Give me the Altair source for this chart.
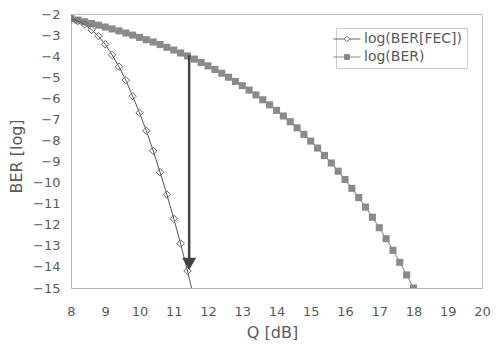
import altair as alt
import pandas as pd

# ---- data ----
q_ber = [8.0, 8.2, 8.4, 8.6, 8.8, 9.0, 9.2, 9.4, 9.6, 9.8,
         10.0, 10.2, 10.4, 10.6, 10.8, 11.0, 11.2, 11.4, 11.6, 11.8,
         12.0, 12.2, 12.4, 12.6, 12.8, 13.0, 13.2, 13.4, 13.6, 13.8,
         14.0, 14.2, 14.4, 14.6, 14.8, 15.0, 15.2, 15.4, 15.6, 15.8,
         16.0, 16.2, 16.4, 16.6, 16.8, 17.0, 17.2, 17.4, 17.6, 17.8, 18.0]
log_ber = [-2.22, -2.29, -2.37, -2.45, -2.53, -2.62, -2.71, -2.80, -2.90, -3.00,
           -3.11, -3.22, -3.33, -3.45, -3.58, -3.71, -3.85, -3.99, -4.14, -4.30,
           -4.46, -4.63, -4.81, -5.00, -5.20, -5.40, -5.61, -5.84, -6.07, -6.31,
           -6.57, -6.84, -7.11, -7.40, -7.71, -8.03, -8.36, -8.71, -9.07, -9.46,
           -9.85, -10.27, -10.71, -11.16, -11.64, -12.14, -12.66, -13.21, -13.78, -14.38, -15.00]

q_fec = [8.0, 8.2, 8.4, 8.6, 8.8, 9.0, 9.2, 9.4, 9.6, 9.8,
         10.0, 10.2, 10.4, 10.6, 10.8, 11.0, 11.2, 11.4, 11.6]
log_fec = [-2.22, -2.34, -2.50, -2.75, -3.05, -3.44, -3.94, -4.50, -5.14, -5.90,
           -6.69, -7.54, -8.49, -9.51, -10.57, -11.71, -12.89, -14.19, -15.55]

arrow_q = [11.45]
arrow_top = [-3.95]
arrow_end = [-13.6]
arrow_head = [-13.85]

series_names = ["log(BER[FEC])", "log(BER)"]
x_ticks = [8, 9, 10, 11, 12, 13, 14, 15, 16, 17, 18, 19, 20]
y_ticks = [-15, -14, -13, -12, -11, -10, -9, -8, -7, -6, -5, -4, -3, -2]

# ---- frames ----
ber_df = pd.DataFrame({"q": q_ber, "v": log_ber, "series": series_names[1]})
fec_df = pd.DataFrame({"q": q_fec, "v": log_fec, "series": series_names[0]})
both_df = pd.concat([fec_df, ber_df], ignore_index=True)
arrow_df = pd.DataFrame({"q": arrow_q, "top": arrow_top, "end": arrow_end, "head": arrow_head})

FONT = "DejaVu Sans"
TXT = "#5a5a5a"

x_scale = alt.Scale(domain=[8, 20], nice=False, zero=False)
y_scale = alt.Scale(domain=[-15, -2], nice=False, zero=False)

x_axis = alt.Axis(title="Q [dB]", values=x_ticks, format="d", grid=False, ticks=False,
                  labelFlush=False, labelOverlap=False, labelFont=FONT, labelFontSize=13,
                  labelColor=TXT, labelPadding=17, domainColor="#b0b0b0",
                  titleFont=FONT, titleFontSize=16, titleFontWeight="normal",
                  titleColor=TXT, titleBaseline="alphabetic", titleX=201, titleY=49)
y_axis = alt.Axis(title="BER [log]", values=y_ticks, format="d", grid=False, ticks=False,
                  labelFlush=False, labelOverlap=False, labelFont=FONT, labelFontSize=13,
                  labelColor=TXT, labelPadding=11, domainColor="#b0b0b0",
                  titleFont=FONT, titleFontSize=16, titleFontWeight="normal",
                  titleColor=TXT, titleBaseline="alphabetic", titleAngle=270,
                  titleX=-50, titleY=142)

X = alt.X("q:Q", scale=x_scale, axis=x_axis)
Y = alt.Y("v:Q", scale=y_scale, axis=y_axis)

ber_line = alt.Chart(ber_df).mark_line(color="#9a9a9a", strokeWidth=1.2, clip=True).encode(x=X, y=Y)
ber_pts = alt.Chart(ber_df).mark_square(size=50, color="#8a8a8a", opacity=1, clip=True).encode(x=X, y=Y)
fec_line = alt.Chart(fec_df).mark_line(color="#555555", strokeWidth=1, clip=True).encode(x=X, y=Y)
fec_pts = alt.Chart(fec_df).mark_point(shape="diamond", size=55, color="#666666", filled=False,
                                       strokeWidth=1, opacity=1, clip=True).encode(x=X, y=Y)

arrow_rule = alt.Chart(arrow_df).mark_rule(color="#444444", strokeWidth=2.5).encode(
    x=alt.X("q:Q", scale=x_scale, axis=x_axis),
    y=alt.Y("top:Q", scale=y_scale, axis=y_axis),
    y2="end:Q")
arrow_tip = alt.Chart(arrow_df).mark_point(shape="triangle-down", filled=True, size=200,
                                           color="#444444", opacity=1).encode(
    x=alt.X("q:Q", scale=x_scale, axis=x_axis),
    y=alt.Y("head:Q", scale=y_scale, axis=y_axis))

# legend symbols: line + marker as custom paths
p_diamond = "M-2.7,0H-0.55M0.55,0H2.7M-0.55,0L0,-0.55L0.55,0L0,0.55Z"
p_square = "M-2.7,0H2.7M-0.5,-0.5H0.5V0.5H-0.5Z"

leg = alt.Legend(title=None, orient="none", legendX=265, legendY=14, fillColor="white",
                 strokeColor="#cccccc", padding=4, labelFont=FONT, labelFontSize=14,
                 labelColor=TXT, symbolSize=100, symbolStrokeWidth=1, symbolOpacity=1,
                 labelOffset=10, rowPadding=4)

legend_layer = alt.Chart(both_df).mark_point(opacity=0).encode(
    x=X, y=Y,
    shape=alt.Shape("series:N", scale=alt.Scale(domain=series_names, range=[p_diamond, p_square]), legend=leg),
    fill=alt.Fill("series:N", scale=alt.Scale(domain=series_names, range=["white", "#8a8a8a"]), legend=leg),
    stroke=alt.Stroke("series:N", scale=alt.Scale(domain=series_names, range=["#666666", "#8a8a8a"]), legend=leg),
)

chart = alt.layer(legend_layer, ber_line, ber_pts, fec_line, fec_pts, arrow_rule, arrow_tip).properties(
    width=411, height=274,
    autosize=alt.AutoSizeParams(type="none"),
    padding={"left": 63, "top": 6, "right": 9, "bottom": 52},
    background="white",
).configure_view(stroke="#c0c0c0")

chart.save("out.html", embed_options={"renderer": "svg", "actions": False})
